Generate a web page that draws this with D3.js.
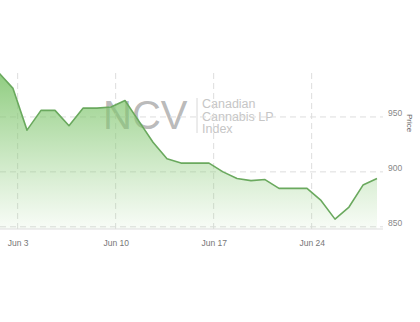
<!DOCTYPE html>
<html>
<head>
<meta charset="utf-8">
<script src="https://cdn.jsdelivr.net/npm/d3@7"></script>
<style>
  body { margin: 0; background: #fff; }
  svg { display: block; font-family: "Liberation Sans", Arial, sans-serif; }
</style>
</head>
<body>
<svg id="chart" width="420" height="322"></svg>
<script>
// daily closes, Jun 1 - Jun 28 (weekends carry Friday's value)
const days = d3.range(1, 29);
const prices = [990, 976, 938, 956, 956, 942, 958, 958, 959, 965,
	946, 927, 912, 908, 908, 908, 900, 894, 892, 893,
	885, 885, 885, 874, 857, 868, 888, 894];
const priceTicks = [850, 900, 950];
const dateTicks = [3, 10, 17, 24];

const data = days.map(function(d, i){
	return { date: new Date(2019, 5, d, 16), price: prices[i] };
});

const svg = d3.select("#chart");
const plotLeft = 0, plotRight = 383, plotTop = 73, plotBottom = 229;

const x = d3.scaleTime()
	.domain([data[0].date, data[data.length - 1].date])
	.range([-1, 377]);
const y = d3.scaleLinear()
	.domain([848, 990])
	.range([plotBottom, plotTop]);

const defs = svg.append("defs");
defs.append("clipPath").attr("id", "plot")
	.append("rect").attr("x", plotLeft).attr("y", plotTop)
	.attr("width", plotRight - plotLeft).attr("height", plotBottom - plotTop);

const grad = defs.append("linearGradient").attr("id", "fill")
	.attr("gradientUnits", "userSpaceOnUse")
	.attr("x1", 0).attr("x2", 0).attr("y1", plotTop).attr("y2", plotBottom);
grad.append("stop").attr("offset", "0%").attr("stop-color", "#7cc46a").attr("stop-opacity", 0.85);
grad.append("stop").attr("offset", "100%").attr("stop-color", "#8ccc7a").attr("stop-opacity", 0.06);

// watermark
const wm = svg.append("g");
wm.append("text").attr("x", 103).attr("y", 129)
	.attr("font-size", 40).attr("fill", "#a8a8a8").attr("fill-opacity", 0.8)
	.text("NCV");
wm.append("line").attr("x1", 197).attr("x2", 197).attr("y1", 98).attr("y2", 133)
	.attr("stroke", "#d8d8d8");
["Canadian", "Cannabis LP", "Index"].forEach(function(t, i){
	wm.append("text").attr("x", 202).attr("y", 108 + i * 12.6)
		.attr("font-size", 12.5).attr("fill", "#c6c6c6").text(t);
});

// grid
const xTickDates = dateTicks.map(function(d){ return new Date(2019, 5, d); });
svg.append("g").selectAll("line").data(xTickDates).join("line")
	.attr("x1", d => x(d)).attr("x2", d => x(d))
	.attr("y1", plotTop).attr("y2", plotBottom)
	.attr("stroke", "#ddd").attr("stroke-dasharray", "6,4");
svg.append("g").selectAll("line").data(priceTicks).join("line")
	.attr("x1", plotLeft).attr("x2", plotRight)
	.attr("y1", d => y(d)).attr("y2", d => y(d))
	.attr("stroke", "#ddd").attr("stroke-dasharray", "6,4");

// area + line
const plot = svg.append("g").attr("clip-path", "url(#plot)");
plot.append("path").datum(data)
	.attr("fill", "url(#fill)")
	.attr("d", d3.area().x(d => x(d.date)).y0(plotBottom).y1(d => y(d.price)));
plot.append("path").datum(data)
	.attr("fill", "none").attr("stroke", "#6aa95e").attr("stroke-width", 1.6)
	.attr("stroke-linejoin", "round")
	.attr("d", d3.line().x(d => x(d.date)).y(d => y(d.price)));

// x axis
const xAxis = svg.append("g").attr("transform", `translate(0,${plotBottom})`)
	.call(d3.axisBottom(x).tickValues(xTickDates).tickSize(0).tickPadding(11)
		.tickFormat(d3.timeFormat("%b %-d")));
xAxis.select(".domain").remove();
xAxis.selectAll("text").attr("fill", "#777").attr("font-size", 8.5)
	.attr("font-family", "Liberation Sans, Arial, sans-serif");
svg.append("line").attr("x1", plotLeft).attr("x2", plotRight)
	.attr("y1", plotBottom).attr("y2", plotBottom)
	.attr("stroke", "#ddd");

// y axis on the right
const yAxis = svg.append("g").attr("transform", "translate(388,0)")
	.call(d3.axisRight(y).tickValues(priceTicks).tickSize(0).tickPadding(0));
yAxis.select(".domain").remove();
yAxis.selectAll("text").attr("fill", "#888").attr("font-size", 8.5).attr("dy", "-0.15em")
	.attr("font-family", "Liberation Sans, Arial, sans-serif");

svg.append("text").attr("transform", "translate(407,123) rotate(90)")
	.attr("text-anchor", "middle").attr("font-size", 8).attr("fill", "#666")
	.text("Price");
</script>
</body>
</html>
